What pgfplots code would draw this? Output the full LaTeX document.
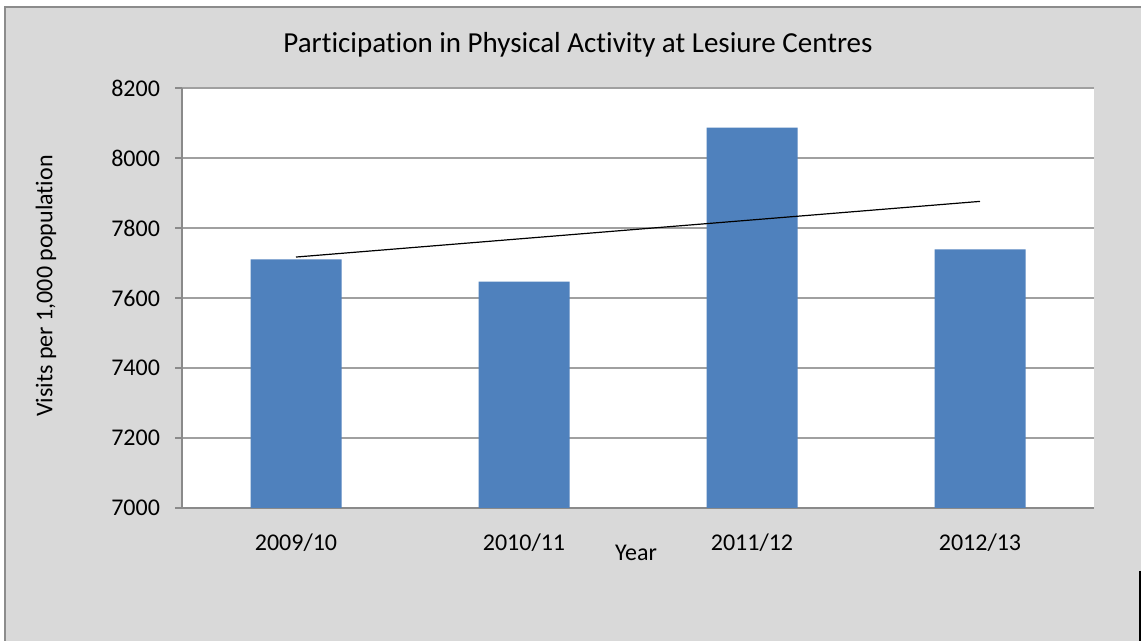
\documentclass[border=0pt]{standalone}
\usepackage{pgfplots}
\pgfplotsset{compat=1.18}
\usepackage{fontspec}
\setmainfont{Carlito}[Ligatures=NoCommon]
\definecolor{bgc}{HTML}{D9D9D9}
\definecolor{framec}{HTML}{8C8C8C}
\definecolor{gridc}{HTML}{A0A0A0}
\definecolor{axisc}{HTML}{8A8A8A}
\definecolor{barc}{HTML}{4F81BD}
\begin{document}
\begin{tikzpicture}
\useasboundingbox (0pt,0pt) rectangle (570.5pt,320.5pt);
\fill[bgc] (2.5pt,0pt) rectangle (570.5pt,317pt);
\draw[framec, line width=1pt] (2.5pt,0pt) -- (2.5pt,317pt) -- (570.5pt,317pt);
\draw[black, line width=1pt] (569.8pt,0pt) -- (569.8pt,35pt);
\begin{axis}[
  at={(91pt,66.5pt)}, anchor=south west,
  width=456pt, height=210pt, scale only axis,
  axis background/.style={fill=white},
  xmin=-0.5, xmax=3.5, ymin=7000, ymax=8200,
  ytick={7000,7200,...,8200},
  xtick={0,1,2,3},
  xticklabels={2009/10,2010/11,2011/12,2012/13},
  major x tick style={draw=none},
  extra x ticks={-0.5,0.5,1.5,2.5,3.5},
  extra x tick labels={},
  extra x tick style={major tick length=5pt, tick style={axisc, line width=0.6pt}},
  axis x line*=bottom, axis y line*=left,
  axis line style={axisc, line width=0.8pt},
  tick align=outside,
  major tick length=3.5pt,
  tick style={axisc, line width=0.6pt},
  ymajorgrids, grid style={gridc, line width=0.6pt},
  ticklabel style={font=\fontsize{12}{14}\selectfont, text=black},
  /pgf/number format/assume math mode=true,
  /pgf/number format/1000 sep={},
  xticklabel style={yshift=-6pt},
  yticklabel style={xshift=-4pt},
  clip=false,
]
\addplot[ybar, bar width=45.5pt, fill=barc, draw=none] coordinates {(0,7710) (1,7647) (2,8087) (3,7739)};
\addplot[black, line width=0.6pt, mark=none] coordinates {(0,7717) (3,7876)};
\end{axis}
\node[font=\fontsize{14.5}{17}\selectfont] at (289pt,298pt) {Participation in Physical Activity at Lesiure Centres};
\node[font=\fontsize{12}{14}\selectfont, rotate=90] at (23pt,177.5pt) {Visits per 1,000 population};
\node[font=\fontsize{12}{14}\selectfont] at (318pt,44pt) {Year};
\end{tikzpicture}
\end{document}
